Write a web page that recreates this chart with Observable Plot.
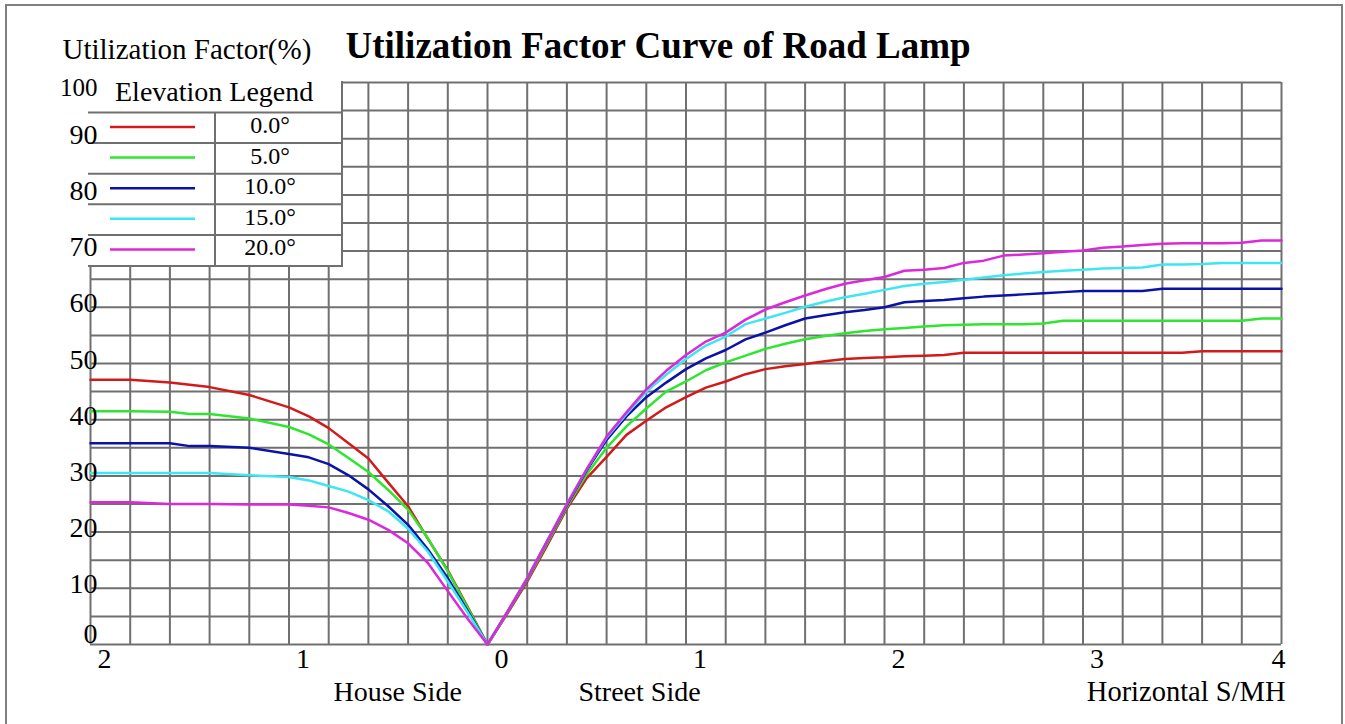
<!DOCTYPE html>
<html>
<head>
<meta charset="utf-8">
<script src="https://cdn.jsdelivr.net/npm/d3@7"></script>
<script src="https://cdn.jsdelivr.net/npm/@observablehq/plot@0.6"></script>
<style>
  html, body { margin: 0; padding: 0; background: #fff; }
  #wrap { position: relative; width: 1345px; height: 724px; overflow: hidden; background: #fff; }
  #frame { position: absolute; left: 5px; top: 4px; width: 1334px; height: 800px; border: 2px solid #808080; box-sizing: content-box; }
  #chart { position: absolute; left: 0; top: 0; }
</style>
</head>
<body>
<div id="wrap"><div id="frame"></div><div id="chart"></div></div>
<script>
// ---- data ----
const xs = [-2, -1.8, -1.6, -1.5, -1.4, -1.2, -1.0, -0.9, -0.8, -0.7, -0.6, -0.5, -0.4, -0.3, -0.2, -0.1,
  0,
  0.1, 0.2, 0.3, 0.4, 0.5, 0.6, 0.7, 0.8, 0.9, 1.0, 1.1, 1.2, 1.3, 1.4, 1.5, 1.6, 1.7, 1.8, 1.9, 2.0,
  2.1, 2.2, 2.3, 2.4, 2.5, 2.6, 2.7, 2.8, 2.9, 3.0, 3.1, 3.2, 3.3, 3.4, 3.5, 3.6, 3.7, 3.8, 3.9, 4.0];

const elev0 = [47.1, 47.1, 46.6, 46.2, 45.8, 44.4, 42.2, 40.6, 38.5, 35.8, 33.1, 28.8, 24.6, 18.8, 13.2, 6.7,
  0,
  5.5, 11.2, 17.6, 24.2, 29.6, 33.4, 37.3, 39.8, 42.2, 44.0, 45.7, 46.8, 48.1, 49.0, 49.5, 49.9, 50.4, 50.8, 51.0, 51.1,
  51.3, 51.4, 51.5, 51.9, 51.9, 51.9, 51.9, 51.9, 51.9, 51.9, 51.9, 51.9, 51.9, 51.9, 51.9, 52.2, 52.2, 52.2, 52.2, 52.2];

const elev5 = [41.5, 41.5, 41.4, 41.0, 41.0, 40.2, 38.7, 37.4, 35.6, 33.2, 30.7, 27.5, 24.0, 18.9, 13.0, 6.5,
  0,
  5.7, 11.5, 18.0, 24.5, 30.3, 35.0, 38.8, 42.0, 45.0, 46.8, 48.8, 50.2, 51.4, 52.6, 53.5, 54.3, 54.9, 55.4, 55.8, 56.1,
  56.3, 56.6, 56.8, 56.9, 57.0, 57.0, 57.0, 57.1, 57.6, 57.6, 57.6, 57.6, 57.6, 57.6, 57.6, 57.6, 57.6, 57.6, 58.0, 58.0];

const elev10 = [35.8, 35.8, 35.8, 35.3, 35.3, 35.0, 33.9, 33.3, 32.1, 30.1, 27.6, 24.6, 21.3, 16.9, 11.8, 6.0,
  0,
  5.8, 11.7, 18.3, 24.8, 31.0, 36.4, 40.6, 44.0, 46.6, 49.0, 50.9, 52.4, 54.3, 55.5, 56.8, 58.0, 58.6, 59.1, 59.5, 60.0,
  60.9, 61.1, 61.3, 61.6, 61.9, 62.1, 62.3, 62.5, 62.7, 62.9, 62.9, 62.9, 62.9, 63.3, 63.3, 63.3, 63.3, 63.3, 63.3, 63.3];

const elev15 = [30.5, 30.5, 30.5, 30.5, 30.5, 30.1, 29.8, 29.2, 28.2, 27.2, 25.7, 23.7, 20.6, 16.5, 11.2, 5.7,
  0,
  5.8, 11.8, 18.4, 25.0, 31.2, 36.8, 41.0, 45.0, 48.0, 50.8, 53.2, 54.8, 57.0, 58.0, 59.0, 60.1, 61.0, 61.8, 62.4, 63.1,
  63.8, 64.2, 64.5, 64.9, 65.3, 65.7, 66.0, 66.3, 66.5, 66.7, 66.9, 67.0, 67.1, 67.6, 67.6, 67.7, 67.9, 67.9, 67.9, 67.9];

const elev20 = [25.3, 25.3, 25.0, 25.0, 25.0, 24.9, 24.9, 24.7, 24.4, 23.4, 22.2, 20.4, 18.0, 14.5, 9.5, 4.6,
  0,
  5.8, 11.8, 18.4, 25.0, 31.2, 37.0, 41.3, 45.4, 48.7, 51.5, 53.9, 55.5, 57.8, 59.6, 60.9, 62.1, 63.2, 64.2, 64.8, 65.4,
  66.5, 66.7, 67.0, 67.9, 68.3, 69.2, 69.4, 69.6, 69.9, 70.1, 70.6, 70.8, 71.1, 71.3, 71.4, 71.4, 71.4, 71.5, 71.9, 71.9];

const elevations = ["0.0°", "5.0°", "10.0°", "15.0°", "20.0°"];
const seriesValues = [elev0, elev5, elev10, elev15, elev20];
const colors = ["#d21a1a", "#2ee62e", "#0b12a8", "#3de6f2", "#dc28dc"];

const yTickValues = [0, 10, 20, 30, 40, 50, 60, 70, 80, 90, 100];
const xTickValues = [-2, -1, 0, 1, 2, 3, 4];
const xTickLabels = ["2", "1", "0", "1", "2", "3", "4"];

const titleText = "Utilization Factor Curve of Road Lamp";
const yTitleText = "Utilization Factor(%)";
const legendTitle = "Elevation Legend";
const xNames = ["House Side", "Street Side", "Horizontal S/MH"];

// ---- build table ----
const rows = [];
seriesValues.forEach((vals, si) => {
  vals.forEach((v, i) => rows.push({x: xs[i], y: v, elev: elevations[si]}));
});

const xGrid = d3.range(31).map(i => -2 + i * 0.2);
const yGrid = d3.range(21).map(i => i * 5);

const FONT = "'Liberation Serif', 'Times New Roman', serif";
const GRID = "#707070";

function legendMark(index, scales, values, dims) {
  const g = d3.create("svg:g");
  const L = 88, R = 342, T = 80, B = 266;
  g.append("rect").attr("x", L).attr("y", T).attr("width", R - L).attr("height", B - T).attr("fill", "#fff");
  const line = (x1, y1, x2, y2) => g.append("line")
    .attr("x1", x1).attr("y1", y1).attr("x2", x2).attr("y2", y2)
    .attr("stroke", GRID).attr("stroke-width", 2);
  line(R, 81, R, B + 1);
  line(L, B, R + 1, B);
  const rowTop = k => 112.5 + 30.6 * k;
  elevations.forEach((e, k) => line(L, rowTop(k), R, rowTop(k)));
  line(215, rowTop(0), 215, B);
  g.append("text").attr("x", 115).attr("y", 101).attr("text-anchor", "start")
    .attr("font-family", FONT).attr("font-size", 28).attr("fill", "#000").text(legendTitle);
  elevations.forEach((e, k) => {
    g.append("line").attr("x1", 110).attr("x2", 195)
      .attr("y1", rowTop(k) + 14.5).attr("y2", rowTop(k) + 14.5)
      .attr("stroke", colors[k]).attr("stroke-width", 2.5);
    g.append("text").attr("x", 270).attr("y", rowTop(k) + 20.5).attr("text-anchor", "middle")
      .attr("font-family", FONT).attr("font-size", 24).attr("fill", "#000").text(e);
  });
  return g.node();
}

const plot = Plot.plot({
  width: 1345,
  height: 724,
  marginLeft: 90,
  marginRight: 64,
  marginTop: 82,
  marginBottom: 80,
  style: {background: "transparent", fontFamily: FONT, overflow: "visible"},
  x: {domain: [-2, 4], axis: null},
  y: {domain: [0, 100], axis: null},
  color: {domain: elevations, range: colors},
  marks: [
    Plot.ruleX(xGrid, {x: d => d, y1: 0, y2: 100, stroke: GRID, strokeWidth: 2}),
    Plot.ruleY(yGrid, {y: d => d, x1: -2, x2: 4, stroke: GRID, strokeWidth: 2}),
    Plot.line(rows, {x: "x", y: "y", z: "elev", stroke: "elev", strokeWidth: 2.5}),
    legendMark,
    Plot.text(yTickValues.filter(v => v > 0 && v < 100), {x: -2, y: d => d, text: d => String(d),
      textAnchor: "end", lineAnchor: "bottom", dx: 7, dy: 5, fontSize: 28, fill: "#000"}),
    Plot.text([0], {x: -2, y: d => d, text: d => String(d),
      textAnchor: "end", lineAnchor: "bottom", dx: 7, dy: -2, fontSize: 28, fill: "#000"}),
    Plot.text([100], {x: -2, y: d => d, text: d => String(d),
      textAnchor: "end", lineAnchor: "bottom", dx: 7, dy: 13, fontSize: 25, fill: "#000"}),
    Plot.text(xTickValues.slice(0, -1), {x: d => d, y: 0, text: (d, i) => xTickLabels[i],
      textAnchor: "start", lineAnchor: "bottom", dx: 7, dy: 23, fontSize: 28, fill: "#000"}),
    Plot.text(xTickValues.slice(-1), {x: d => d, y: 0, text: () => xTickLabels[xTickLabels.length - 1],
      textAnchor: "end", lineAnchor: "bottom", dx: 4, dy: 23, fontSize: 28, fill: "#000"}),
    Plot.text([xNames[0]], {frameAnchor: "bottom-left", text: d => d, textAnchor: "start", lineAnchor: "bottom",
      dx: 243, dy: 56, fontSize: 28, fill: "#000"}),
    Plot.text([xNames[1]], {frameAnchor: "bottom-left", text: d => d, textAnchor: "start", lineAnchor: "bottom",
      dx: 488, dy: 56, fontSize: 28, fill: "#000"}),
    Plot.text([xNames[2]], {frameAnchor: "bottom-right", text: d => d, textAnchor: "end", lineAnchor: "bottom",
      dx: 4, dy: 56, fontSize: 28.5, fill: "#000"}),
    Plot.text([yTitleText], {frameAnchor: "top-left", text: d => d, textAnchor: "start", lineAnchor: "bottom",
      dx: -28, dy: -24, fontSize: 29, fill: "#000"}),
    Plot.text([titleText], {frameAnchor: "top-left", text: d => d, textAnchor: "start", lineAnchor: "bottom",
      dx: 255, dy: -25, fontSize: 37, fontWeight: "bold", fill: "#000"})
  ]
});
document.getElementById("chart").appendChild(plot);
</script>
</body>
</html>
